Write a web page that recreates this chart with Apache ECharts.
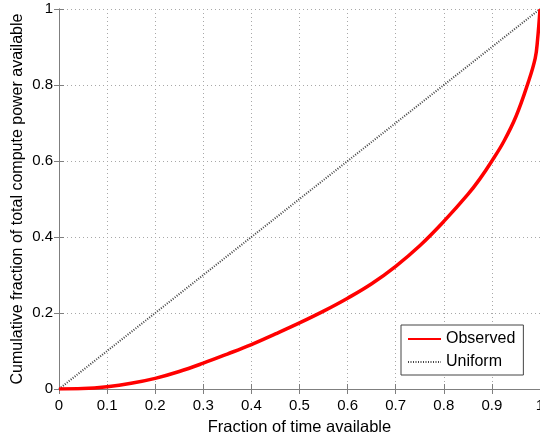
<!DOCTYPE html>
<html><head><meta charset="utf-8">
<script src="https://cdn.jsdelivr.net/npm/echarts@6/dist/echarts.min.js"></script>
<style>html,body{margin:0;padding:0;background:#fff}#c{width:540px;height:438px}</style>
</head><body><div id="c"></div>
<script>
const fractionTime = [0, 0.05, 0.1, 0.15, 0.2, 0.25, 0.3, 0.35, 0.4, 0.45, 0.5, 0.55, 0.6, 0.65, 0.7, 0.75, 0.8, 0.85, 0.875, 0.9, 0.925, 0.95, 0.975, 0.99, 0.995, 1.0];
const observed =     [0, 0.001, 0.006, 0.015, 0.028, 0.046, 0.068, 0.092, 0.117, 0.145, 0.174, 0.205, 0.239, 0.277, 0.323, 0.377, 0.441, 0.512, 0.553, 0.6, 0.652, 0.717, 0.805, 0.87, 0.92, 1.0];
const uniform =      [0, 1];
const uniformX =     [0, 1];
const xTicks = ['0','0.1','0.2','0.3','0.4','0.5','0.6','0.7','0.8','0.9','1'];
const yTicks = ['0','0.2','0.4','0.6','0.8','1'];

const chart = echarts.init(document.getElementById('c'));
const font = 'Liberation Sans, Arial, sans-serif';
const axisColor = '#7f7f7f';
function mkX(pos, show) {
  return {
    type: 'value', min: 0, max: 1, interval: 0.1, position: pos,
    axisLine: {show: true, lineStyle: {color: axisColor, width: 1}},
    axisTick: {show: true, inside: true, length: 5, lineStyle: {color: axisColor}},
    axisLabel: {show: show, color: '#000', fontSize: 15, fontFamily: font, margin: 9,
      formatter: v => xTicks[Math.round(v * 10)]},
    splitLine: {show: show, lineStyle: {type: [1, 3], color: '#a8a8a8'}},
    name: show ? 'Fraction of time available' : '', nameLocation: 'middle', nameGap: 30,
    nameMoveOverlap: false,
    nameTextStyle: {color: '#000', fontSize: 16.5, fontFamily: font}
  };
}
function mkY(pos, show) {
  return {
    type: 'value', min: 0, max: 1, interval: 0.2, position: pos,
    axisLine: {show: true, lineStyle: {color: axisColor, width: 1}},
    axisTick: {show: true, inside: true, length: 5, lineStyle: {color: axisColor}},
    axisLabel: {show: show, color: '#000', fontSize: 15, fontFamily: font, margin: 6,
      formatter: v => yTicks[Math.round(v * 5)]},
    splitLine: {show: show, lineStyle: {type: [1, 3], color: '#a8a8a8'}},
    name: show ? 'Cumulative fraction of total compute power available' : '', nameLocation: 'middle', nameGap: 33,
    nameMoveOverlap: false,
    nameTextStyle: {color: '#000', fontSize: 16, fontFamily: font}
  };
}
chart.setOption({
  animation: false,
  backgroundColor: '#fff',
  grid: {left: 59, right: 0, top: 9, bottom: 49, containLabel: false, outerBoundsMode: 'none'},
  xAxis: [mkX('bottom', true), mkX('top', false)],
  yAxis: [mkY('left', true), mkY('right', false)],
  legend: {
    orient: 'vertical', left: 401, top: 325,
    data: ['Observed', 'Uniform'],
    backgroundColor: '#fff', borderColor: '#444', borderWidth: 1,
    padding: [6, 8, 5, 6], itemGap: 7, itemWidth: 33, itemHeight: 14,
    itemStyle: {opacity: 0},
    textStyle: {color: '#000', fontSize: 16, fontFamily: font}
  },
  series: [
    {
      name: 'Observed', type: 'line', symbol: 'none', showSymbol: false, smooth: 0.4,
      data: fractionTime.map((x, i) => [x, observed[i]]),
      itemStyle: {color: '#ff0000'},
      lineStyle: {color: '#ff0000', width: 3.5}, z: 3
    },
    {
      name: 'Uniform', type: 'line', symbol: 'none', showSymbol: false,
      data: uniformX.map((x, i) => [x, uniform[i]]),
      itemStyle: {color: '#444'},
      lineStyle: {color: '#444', width: 2, type: [1, 1.5]}, z: 2
    }
  ]
});
</script></body></html>
